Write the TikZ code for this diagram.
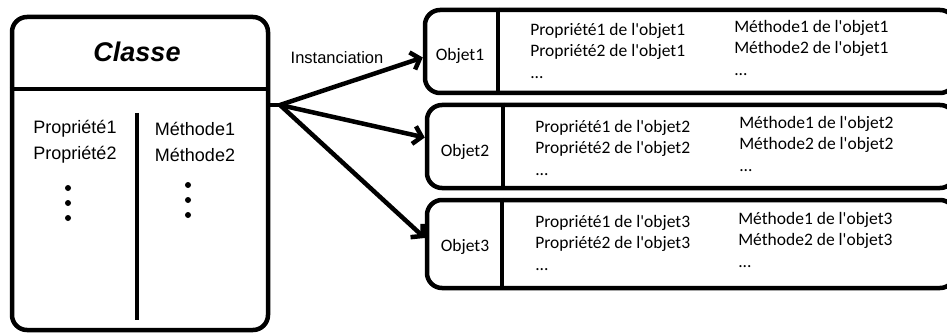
\documentclass[tikz,border=0pt]{standalone}
\usepackage{fontspec}
\setmainfont{Liberation Sans}
\newfontfamily\objfont{Carlito}
\usetikzlibrary{arrows.meta}

\begin{document}
\begin{tikzpicture}[
		x=1pt, y=-1pt,
		line width=4.5pt,
		>={Straight Barb[length=8pt,width=18pt]},
		boite/.style={draw, rounded corners=15pt, inner sep=0pt},
		txtclasse/.style={font=\fontsize{18}{26}\selectfont, align=center, inner sep=0pt},
		txtobj/.style={font=\objfont\fontsize{17.5}{21.5}\selectfont, align=left, inner sep=0pt, anchor=north west},
	]
		\useasboundingbox (0,0) rectangle (947,334);
		\clip (0,0) rectangle (947,334);

		% classe
		\node[boite, minimum width=256pt, minimum height=313pt] (classe) at (140,173.5) {};
		\node[font=\fontsize{27}{30}\selectfont\bfseries\itshape] (titre) at (137,52) {Classe};
		\draw (classe.west |- 0,89) -- (classe.east |- 0,89);
		\draw (137,113) -- (137,320);
		\node[txtclasse] (props) at (75,142) {Propriété1\\Propriété2};
		\node[txtclasse] (meths) at (195,142) {Méthode1\\Méthode2};
		\foreach \y in {188,203,218} \fill (68,\y) circle (3pt);
		\foreach \y in {185,200,215} \fill (188,\y) circle (3pt);

		% objets
		\node[boite, minimum width=530pt, minimum height=83pt] (obj1) at (690,51.5) {};
		\node[boite, minimum width=528pt, minimum height=83pt] (obj2) at (691,146.5) {};
		\node[boite, minimum width=528pt, minimum height=88pt] (obj3) at (691,244) {};
		\draw (obj1.north -| 498,0) -- (obj1.south -| 498,0);
		\draw (obj2.north -| 503,0) -- (obj2.south -| 503,0);
		\draw (obj3.north -| 502,0) -- (obj3.south -| 502,0);

		\node[font=\objfont\fontsize{17.5}{20}\selectfont] (nom1) at (460,56) {Objet1};
		\node[font=\objfont\fontsize{17.5}{20}\selectfont] (nom2) at (465,152) {Objet2};
		\node[font=\objfont\fontsize{17.5}{20}\selectfont] (nom3) at (465,247) {Objet3};

		\node[txtobj] (p1) at (528,21) {Propriété1 de l'objet1\\Propriété2 de l'objet1\\...};
		\node[txtobj] (m1) at (732,18) {Méthode1 de l'objet1\\Méthode2 de l'objet1\\...};
		\node[txtobj] (p2) at (533,118) {Propriété1 de l'objet2\\Propriété2 de l'objet2\\...};
		\node[txtobj] (m2) at (737,114) {Méthode1 de l'objet2\\Méthode2 de l'objet2\\...};
		\node[txtobj] (p3) at (533,213) {Propriété1 de l'objet3\\Propriété2 de l'objet3\\...};
		\node[txtobj] (m3) at (736,210) {Méthode1 de l'objet3\\Méthode2 de l'objet3\\...};

		% instanciation
		\coordinate (fourche) at (280,105);
		\draw (classe.east |- fourche) -- (fourche);
		\draw[->] (fourche) -- ([yshift=-6pt]obj1.west);
		\draw[->] (fourche) -- ([yshift=9pt]obj2.west);
		\draw[->] (fourche) -- ([yshift=6pt]obj3.west);
		\node[font=\fontsize{16.5}{20}\selectfont] (inst) at (337,58) {Instanciation};
	\end{tikzpicture}
\end{document}
